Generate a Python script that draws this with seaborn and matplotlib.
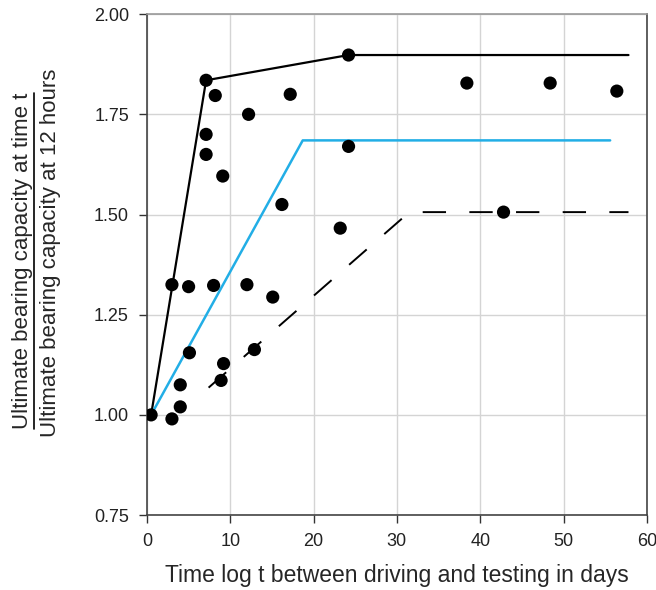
import numpy as np
import pandas as pd
import seaborn as sns
import matplotlib.pyplot as plt
from matplotlib.lines import Line2D

# measured points (time in days, capacity ratio)
pts_x = [0.5, 3.0, 4.0, 4.0, 5.1, 3.0, 5.0, 8.0, 12.0, 15.1, 8.9, 9.2, 12.9,
         7.1, 8.2, 7.1, 7.1, 9.1, 12.2, 17.2, 16.2, 23.2, 24.2, 24.2,
         38.4, 48.4, 56.4, 42.8]
pts_y = [1.00, 0.99, 1.02, 1.075, 1.155, 1.325, 1.32, 1.323, 1.325, 1.294, 1.086, 1.128, 1.163,
         1.835, 1.797, 1.70, 1.65, 1.596, 1.75, 1.80, 1.525, 1.466, 1.67, 1.898,
         1.828, 1.828, 1.808, 1.506]

# envelope lines
upper_x = [0.5, 7.1, 24.2, 57.8]
upper_y = [1.0, 1.835, 1.898, 1.898]
mean_x = [0.5, 18.7, 55.6]
mean_y = [1.0, 1.685, 1.685]
lower_x = [7.4, 31.5, 57.8]
lower_y = [1.068, 1.506, 1.506]

xticks = [0, 10, 20, 30, 40, 50, 60]
yticks = [0.75, 1.00, 1.25, 1.50, 1.75, 2.00]

sns.set_style("whitegrid")
plt.rcParams['font.family'] = ['Liberation Sans', 'DejaVu Sans']

fig = plt.figure(figsize=(6.56, 5.9), dpi=100)
ax = fig.add_axes([0.224, 0.127, 0.762, 0.849])

sns.lineplot(x=upper_x, y=upper_y, sort=False, color='black', lw=1.6, ax=ax)
sns.lineplot(x=mean_x, y=mean_y, sort=False, color='#22aee6', lw=1.8, ax=ax)
sns.lineplot(x=lower_x, y=lower_y, sort=False, color='black', lw=1.4, ax=ax,
             linestyle=(0, (12, 12)))
sns.scatterplot(x=pts_x, y=pts_y, color='black', s=90, edgecolor='none', ax=ax, zorder=5)

ax.set_xlim(0, 60)
ax.set_ylim(0.75, 2.0)
ax.set_xticks(xticks)
ax.set_yticks(yticks)
ax.set_yticklabels([f'{v:.2f}' for v in yticks])
ax.grid(True, color='#d4d4d4', lw=1)
ax.tick_params(axis='both', which='both', direction='out', length=6, width=1,
               color='#333333', labelsize=13, labelcolor='#222222', pad=7,
               left=True, bottom=True)
for side in ['left', 'bottom']:
    ax.spines[side].set_color('#444444')
    ax.spines[side].set_linewidth(1.2)
ax.spines['top'].set_color('#999999')
ax.spines['right'].set_color('#444444')
ax.spines['top'].set_linewidth(1.2)
ax.spines['right'].set_linewidth(1.2)

ax.set_xlabel('Time log t between driving and testing in days', fontsize=16.5, labelpad=10)

# two-line y label as a fraction
top_txt = fig.text(23 / 656, 1 - 261 / 590, 'Ultimate bearing capacity at time t', rotation=90,
                   ha='center', va='center', fontsize=16)
fig.text(51 / 656, 1 - 253 / 590, 'Ultimate bearing capacity at 12 hours', rotation=90,
         ha='center', va='center', fontsize=16)
fig.canvas.draw()
bb = top_txt.get_window_extent().transformed(fig.transFigure.inverted())
fig.add_artist(Line2D([34 / 656, 34 / 656], [bb.y0, bb.y1], transform=fig.transFigure,
                      color='black', lw=1.2))

plt.savefig('out.png', dpi=100)
